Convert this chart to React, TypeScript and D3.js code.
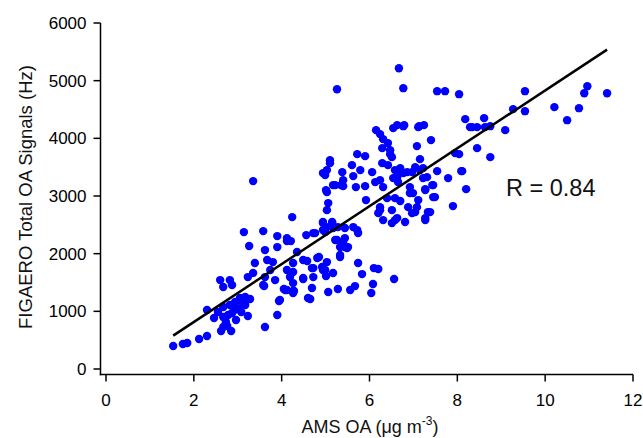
import React, { useEffect, useRef } from "react";
import * as d3 from "d3";

// AMS OA (ug m-3) vs FIGAERO total OA signal (Hz)
const points: [number, number][] = [
  // low end
  [1.53, 399], [1.75, 433], [1.85, 451], [2.12, 520], [2.30, 572], [2.62, 659], [2.85, 659],
  [2.67, 728], [2.76, 745], [2.30, 1022], [2.46, 884], [2.55, 988], [2.67, 1074], [2.82, 1109],
  [2.94, 1161], [3.05, 1230], [3.17, 1248], [3.28, 1213], [3.17, 1109], [3.01, 1040], [2.87, 970],
  [2.67, 901], [3.23, 918], [2.60, 1542], [2.67, 1421], [2.82, 1542], [2.87, 1456], [3.23, 1594],
  [3.35, 1664], [3.62, 1594], [3.58, 1456], [3.85, 1542], [3.96, 1196], [3.90, 936], [3.62, 728],
  [4.08, 1369], [4.19, 1594], [2.78, 936], [3.08, 988], [2.96, 849], [2.92, 1022], [3.10, 1144],
  [2.73, 815],
  // 3-5 ug m-3
  [3.35, 3258], [4.24, 2634], [3.14, 2374], [3.58, 2391], [3.90, 2305], [4.12, 2218], [4.21, 2218],
  [3.26, 2132], [3.62, 2062], [3.90, 2114], [3.67, 1889], [3.80, 1854], [3.39, 1837], [4.35, 2028],
  [3.94, 1178], [4.05, 1386], [4.26, 1352], [3.60, 1438], [4.60, 1230], [4.49, 1577], [4.58, 1872],
  [4.56, 2322], [4.76, 2357], [4.94, 2409], [4.94, 2548], [5.15, 2530], [5.22, 2236], [4.85, 1941],
  [5.03, 1854], [4.69, 1750], [4.94, 1716], [4.26, 1837], [4.12, 1716], [3.74, 1716], [4.26, 1681],
  [4.12, 2270],
  // 5-6.3 upper band
  [5.10, 3570], [5.03, 3449], [4.99, 3362], [5.22, 3189], [5.03, 3067], [5.06, 2877], [5.03, 2755],
  [5.10, 3622], [4.94, 3397], [5.01, 3102], [5.38, 3414], [5.40, 3275], [5.40, 3171], [5.60, 3535],
  [5.63, 3345], [5.79, 3449], [5.72, 3726], [5.90, 3691], [6.06, 3414], [6.13, 3241], [6.24, 3275],
  [6.31, 3154], [5.69, 3154], [5.90, 3171], [5.92, 2929], [5.35, 3189], [5.17, 3189],
  // 6-7.5 upper cluster
  [6.15, 4142], [6.24, 4073], [6.31, 3986], [6.54, 4177], [6.63, 4229], [6.79, 4229], [7.13, 4211],
  [7.24, 4229], [7.40, 3969], [7.08, 3865], [6.29, 3830], [6.42, 3917], [6.47, 3795], [6.51, 3674],
  [7.15, 3639], [6.29, 3570], [6.42, 3535], [6.47, 3726], [6.70, 3483], [6.58, 3449], [6.74, 3414],
  [6.97, 3414], [7.15, 3449], [7.04, 3501], [7.31, 3327], [7.54, 3431], [7.45, 3189], [7.27, 3119],
  [7.49, 2981], [6.99, 3050], [6.92, 3154], [6.54, 3310], [6.65, 3241], [6.63, 3327], [6.86, 3414],
  // 6-7.3 lower cluster
  [6.24, 2807], [6.40, 2963], [6.58, 2963], [6.70, 2912], [6.20, 2703], [6.31, 2582], [6.51, 2530],
  [6.63, 2617], [6.81, 2548], [6.97, 2703], [7.08, 2807], [7.11, 2929], [7.27, 2617], [7.33, 2721],
  [6.92, 3050], [6.51, 2755], [6.24, 2755],
  // 5-5.7 middle
  [4.94, 2530], [5.15, 2548], [5.03, 2461], [4.99, 2374], [5.17, 2444], [5.28, 2461], [5.44, 2444],
  [5.63, 2461], [5.74, 2357], [5.44, 2270], [5.26, 2236], [5.33, 2114], [5.44, 2114], [5.33, 1976],
  [5.40, 2201], [5.51, 2114], [4.72, 2357], [5.72, 2409],
  // 4.3-6.5 lower
  [4.49, 1889], [4.72, 1750], [4.81, 1924], [4.92, 1768], [4.99, 1716], [5.17, 1664], [4.72, 1594],
  [4.49, 1560], [4.26, 1490], [4.12, 1369], [4.26, 1317], [4.69, 1404], [5.06, 1334], [5.28, 1386],
  [5.56, 1369], [5.67, 1438], [5.74, 1837], [5.83, 1646], [6.10, 1750], [6.20, 1733], [6.08, 1473],
  [6.56, 1560], [6.04, 1317], [4.65, 1213], [4.28, 1352], [5.01, 1612], [5.33, 1941], [5.49, 2097],
  // high end
  [8.18, 4333], [8.34, 4194], [8.45, 4194], [8.45, 3830], [7.95, 3743], [8.04, 3726], [7.22, 3483],
  [7.79, 3310], [8.09, 3431], [8.20, 3119], [7.22, 3310], [7.43, 3189], [7.27, 3102], [7.45, 2981],
  [6.88, 2807], [7.04, 2721], [7.38, 2721], [7.90, 2825], [6.58, 2582], [7.27, 2582], [7.54, 4818],
  [7.72, 4818], [8.04, 4766], [6.77, 4870], [6.67, 5216], [5.26, 4852], [6.77, 4211], [7.11, 4194],
  [8.75, 4211], [8.63, 4194], [8.61, 4350], [8.29, 4194], [8.75, 3674], [9.09, 4142], [9.27, 4506],
  [9.54, 4818], [9.54, 4471], [10.21, 4541], [10.50, 4315], [10.77, 4523], [10.89, 4783],
  [10.96, 4904], [11.41, 4783], [8.11, 3431], [6.77, 3397],
];

const xTicks = [0, 2, 4, 6, 8, 10, 12];
const yTicks = [0, 1000, 2000, 3000, 4000, 5000, 6000];

// linear fit as drawn in the figure
const fitSlope = 502;
const fitIntercept = -189;
const rLabel = "R = 0.84";

export default function App() {
  const ref = useRef<SVGSVGElement>(null);

  useEffect(() => {
    document.body.style.margin = "0";
    const svg = d3.select(ref.current);
    svg.selectAll("*").remove();

    const font = "'Liberation Sans', Arial, sans-serif";
    const x = d3.scaleLinear().domain([0, 12]).range([106, 633]);
    const y = d3.scaleLinear().domain([0, 6000]).range([369, 23]);
    const axisX = 100.5;
    const axisY = 374.5;

    // points
    svg.append("g")
      .selectAll("circle")
      .data(points)
      .join("circle")
      .attr("cx", d => x(d[0]))
      .attr("cy", d => y(d[1]))
      .attr("r", 4.2)
      .attr("fill", "#0000ff");

    // fit line
    const [xmin, xmax] = d3.extent(points, d => d[0]) as [number, number];
    svg.append("path")
      .datum([xmin, xmax])
      .attr("fill", "none")
      .attr("stroke", "#000")
      .attr("stroke-width", 2.5)
      .attr("d", d3.line<number>().x(d => x(d)).y(d => y(fitSlope * d + fitIntercept)));

    // y axis
    const gy = svg.append("g").attr("transform", `translate(${axisX},0)`);
    gy.append("line").attr("y1", y(6000)).attr("y2", axisY + 0.75).attr("stroke", "#000").attr("stroke-width", 1.5);
    gy.selectAll("line.tick").data(yTicks).join("line")
      .attr("class", "tick")
      .attr("x1", -7).attr("x2", 0)
      .attr("y1", d => y(d)).attr("y2", d => y(d))
      .attr("stroke", "#000").attr("stroke-width", 1.5);
    gy.selectAll("text").data(yTicks).join("text")
      .attr("x", -14).attr("y", d => y(d)).attr("dy", "0.35em")
      .attr("text-anchor", "end")
      .attr("font-family", font).attr("font-size", 17)
      .text(d => d);

    // x axis
    const gx = svg.append("g").attr("transform", `translate(0,${axisY})`);
    gx.append("line").attr("x1", axisX - 0.75).attr("x2", x(12)).attr("stroke", "#000").attr("stroke-width", 1.5);
    gx.selectAll("line.tick").data(xTicks).join("line")
      .attr("class", "tick")
      .attr("x1", d => x(d)).attr("x2", d => x(d))
      .attr("y1", 0).attr("y2", 7)
      .attr("stroke", "#000").attr("stroke-width", 1.5);
    gx.selectAll("text").data(xTicks).join("text")
      .attr("x", d => x(d)).attr("y", 31)
      .attr("text-anchor", "middle")
      .attr("font-family", font).attr("font-size", 17)
      .text(d => d);

    // axis titles
    const xt = svg.append("text")
      .attr("x", 370).attr("y", 433)
      .attr("text-anchor", "middle")
      .attr("font-family", font).attr("font-size", 18)
      .attr("fill", "#111");
    xt.append("tspan").text("AMS OA (\u03bcg m");
    xt.append("tspan").attr("dy", -8).attr("font-size", 12).text("-3");
    xt.append("tspan").attr("dy", 8).text(")");

    svg.append("text")
      .attr("transform", `translate(32,197) rotate(-90)`)
      .attr("text-anchor", "middle")
      .attr("font-family", font).attr("font-size", 18.5)
      .attr("fill", "#111")
      .text("FIGAERO Total OA Signals (Hz)");

    svg.append("text")
      .attr("x", 506).attr("y", 196)
      .attr("font-family", font).attr("font-size", 23.5)
      .attr("fill", "#111")
      .text(rLabel);
  }, []);

  return <svg ref={ref} width={643} height={438} style={{ display: "block", background: "#fff" }} />;
}
